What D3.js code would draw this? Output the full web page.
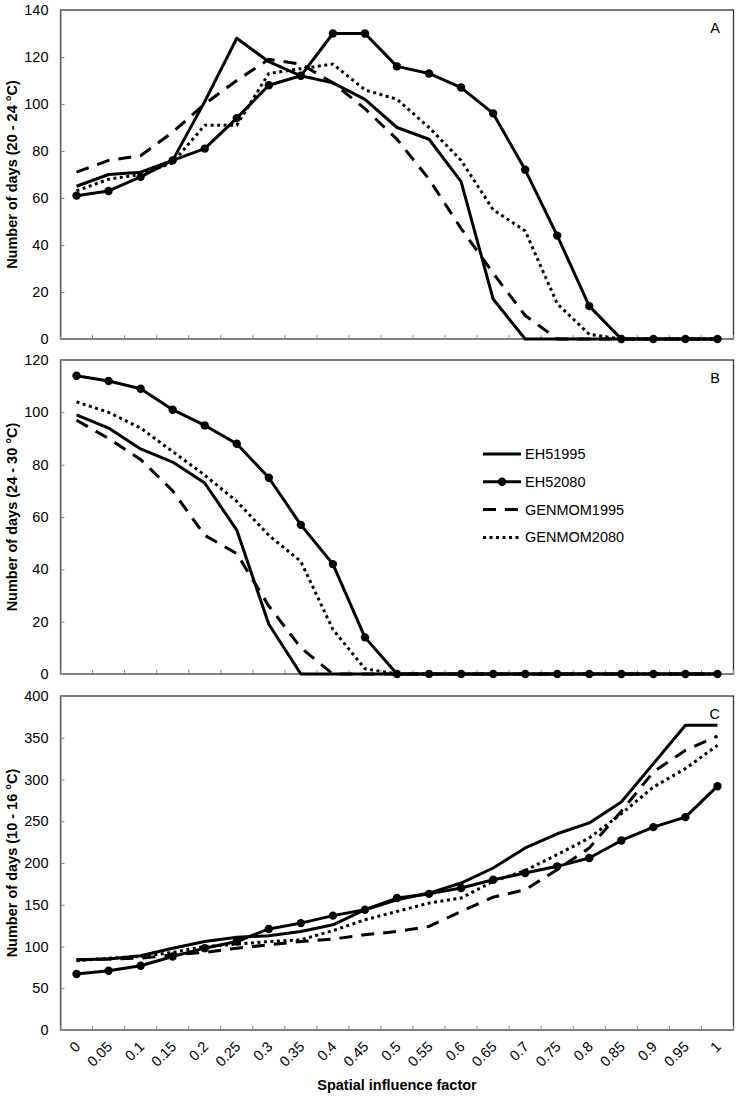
<!DOCTYPE html>
<html><head><meta charset="utf-8">
<script src="https://cdn.jsdelivr.net/npm/d3@7"></script>
<style>body{margin:0;background:#fff} svg{display:block} text{font-family:"Liberation Sans",Arial,Helvetica,sans-serif}</style>
</head><body><svg id="c" width="739" height="1099"></svg>
<script>
const categories = ["0","0.05","0.1","0.15","0.2","0.25","0.3","0.35","0.4","0.45","0.5","0.55","0.6","0.65","0.7","0.75","0.8","0.85","0.9","0.95","1"];
const seriesNames = ["EH51995","EH52080","GENMOM1995","GENMOM2080"];
const panelLabels = ["A","B","C"];
const yTitles = ["Number of days (20 - 24 °C)","Number of days (24 - 30 °C)","Number of days (10 - 16 °C)"];
const xTitle = "Spatial influence factor";
const yTicksA = [0,20,40,60,80,100,120,140];
const yTicksB = [0,20,40,60,80,100,120];
const yTicksC = [0,50,100,150,200,250,300,350,400];

// Panel A: 20 - 24 °C
const A_EH51995    = [65,70,71,76,101,128,118,112,109,102,90,85,67,17,0,0,0,0,0,0,0];
const A_EH52080    = [61,63,69,76,81,94,108,112,130,130,116,113,107,96,72,44,14,0,0,0,0];
const A_GENMOM1995 = [71,76,78,88,100,110,119,117,109,98,85,68,47,28,10,0,0,0,0,0,0];
const A_GENMOM2080 = [63,68,70,75,91,91,113,115,117,106,102,90,76,55,46,15,2,0,0,0,0];
// Panel B: 24 - 30 °C
const B_EH51995    = [99,94,86,81,73,55,19,0,0,0,0,0,0,0,0,0,0,0,0,0,0];
const B_EH52080    = [114,112,109,101,95,88,75,57,42,14,0,0,0,0,0,0,0,0,0,0,0];
const B_GENMOM1995 = [97,90,82,70,53,46,26,10,0,0,0,0,0,0,0,0,0,0,0,0,0];
const B_GENMOM2080 = [104,100,94,85,76,66,53,43,17,2,0,0,0,0,0,0,0,0,0,0,0];
// Panel C: 10 - 16 °C
const C_EH51995    = [84,85,89,98,106,111,113,118,126,144,156,164,176,194,218,235,248,273,319,365,365];
const C_EH52080    = [67,71,77,88,98,106,121,128,137,144,158,163,170,180,188,196,206,227,243,255,292];
const C_GENMOM1995 = [84,85,86,90,93,98,102,106,109,114,118,124,142,159,168,192,218,262,309,335,352];
const C_GENMOM2080 = [83,86,88,93,100,103,106,108,119,132,142,152,158,178,191,210,230,259,291,313,341];

const FONT = '"Liberation Sans",Arial,Helvetica,sans-serif';
const svg = d3.select("#c");
const L = 60.5, R = 733.5;
const x = d3.scaleBand().domain(categories).range([L, R]);
const cx = c => x(c) + x.bandwidth() / 2;
const layout = [{top:10,bottom:339},{top:360,bottom:674},{top:696,bottom:1030}];
const panels = [
  {ticks:yTicksA, data:[A_EH51995,A_EH52080,A_GENMOM1995,A_GENMOM2080]},
  {ticks:yTicksB, data:[B_EH51995,B_EH52080,B_GENMOM1995,B_GENMOM2080]},
  {ticks:yTicksC, data:[C_EH51995,C_EH52080,C_GENMOM1995,C_GENMOM2080]}
];
const styles = [{dash:null,marker:false},{dash:null,marker:true},{dash:"13,9",marker:false},{dash:"3,3.5",marker:false}];
const AX = "#868686";

panels.forEach((p,i) => {
  const {top,bottom} = layout[i];
  const y = d3.scaleLinear().domain([0, d3.max(p.ticks)]).range([bottom, top]);
  const g = svg.append("g");
  g.append("rect").attr("x",L).attr("y",top).attr("width",R-L).attr("height",bottom-top)
    .attr("fill","none").attr("stroke","#333").attr("stroke-width",1.3);
  const ya = g.append("g").attr("transform",`translate(${L},0)`)
    .call(d3.axisLeft(y).tickValues(p.ticks).tickSize(-4).tickSizeOuter(0).tickPadding(12));
  ya.attr("font-family",FONT).attr("font-size",14.5);
  ya.select(".domain").attr("stroke",AX).attr("stroke-width",1.2);
  ya.selectAll(".tick line").attr("stroke",AX);
  ya.selectAll(".tick text").attr("fill","#000");
  // x axis line and boundary ticks
  g.append("line").attr("x1",L).attr("x2",R).attr("y1",bottom).attr("y2",bottom).attr("stroke",AX).attr("stroke-width",1.2);
  const bounds = categories.map(c => x(c)).concat([x.range()[1]]);
  g.selectAll(".xt").data(bounds).join("line").attr("class","xt")
    .attr("x1",d=>d).attr("x2",d=>d).attr("y1",bottom).attr("y2",bottom-4).attr("stroke",AX);

  const line = d3.line().x((d,j)=>cx(categories[j])).y(d=>y(d));
  p.data.forEach((vals,k) => {
    g.append("path").datum(vals).attr("d",line).attr("fill","none").attr("stroke","#000")
      .attr("stroke-width",3).attr("stroke-linejoin","round").attr("stroke-dasharray",styles[k].dash);
    if (styles[k].marker) {
      g.selectAll(null).data(vals).join("circle").attr("cx",(d,j)=>cx(categories[j])).attr("cy",d=>y(d))
        .attr("r",4.2).attr("fill","#000");
    }
  });
  g.append("text").attr("x",720).attr("y",top+23).attr("text-anchor","end").attr("font-size",14.5).text(panelLabels[i]);
  g.append("text").attr("transform",`translate(17,${(top+bottom)/2}) rotate(-90)`).attr("text-anchor","middle")
    .attr("font-size",14.5).attr("font-weight","bold").text(yTitles[i]);

  if (i === 2) {
    g.selectAll(".xl").data(categories).join("text").attr("class","xl")
      .attr("transform",c=>`translate(${cx(c)+1},1044) rotate(-45)`).attr("text-anchor","end")
      .attr("dy","0.35em").attr("font-size",14.5).text(c=>c);
    g.append("text").attr("x",(L+R)/2).attr("y",1090).attr("text-anchor","middle")
      .attr("font-size",14.5).attr("font-weight","bold").text(xTitle);
  }
  if (i === 1) {
    const lg = g.append("g");
    seriesNames.forEach((n,k) => {
      const yy = 454 + k*27.8;
      lg.append("line").attr("x1",483).attr("x2",521).attr("y1",yy).attr("y2",yy).attr("stroke","#000")
        .attr("stroke-width",3).attr("stroke-dasharray",styles[k].dash);
      if (styles[k].marker) lg.append("circle").attr("cx",502).attr("cy",yy).attr("r",4.2).attr("fill","#000");
      lg.append("text").attr("x",525).attr("y",yy+5).attr("font-size",14.5).text(n);
    });
  }
});
</script></body></html>
